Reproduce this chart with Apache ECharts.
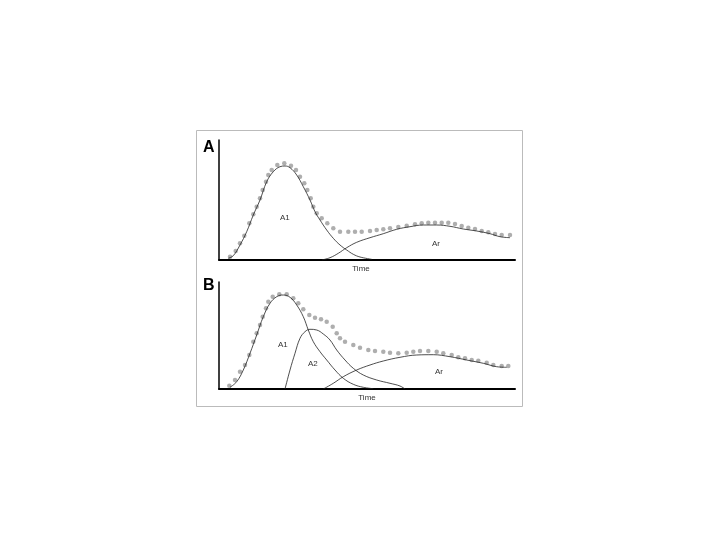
<!DOCTYPE html>
<html><head><meta charset="utf-8">
<script src="https://cdn.jsdelivr.net/npm/echarts@6/dist/echarts.min.js"></script>
<style>html,body{margin:0;padding:0;background:#fff}#c{width:720px;height:540px}</style>
</head><body><div id="c"></div>
<script>
// Panel A
var aA1 = [[9.3,1.7],[14.3,4.3],[21,15],[27.7,28.3],[34.3,45],[41,60],[47.7,78.3],[54.3,88.3],[61,93.3],[66,94],[71,92.3],[77.7,85],[84.3,73.3],[91,60],[96,48.3],[101,40],[107.7,30],[114.3,21.7],[121,15],[127.7,10],[134.3,5.7],[141,3],[152.7,0.7]];
var aAr = [[102.7,0],[111,2.3],[119.3,6.7],[127.7,12.3],[137.7,17.7],[151,22.3],[164.3,26.3],[177.7,30.7],[191,33.3],[204.3,35],[217.7,35],[231,33.7],[244.3,31],[257.7,29],[271,26.3],[281,23.3],[291,22.3]];
var aSum = [[11,3.3],[16.7,9],[21,16.7],[25.3,24.3],[30.3,36.7],[34.3,45.7],[37.7,53.3],[41,61.7],[43.7,70],[47,78.3],[49.3,85],[52.7,90],[58.3,95],[65.3,96.7],[72,94.3],[77,90],[81,83.3],[85.3,76.7],[88.3,70],[91.7,61.7],[94.3,53.3],[97.7,46.7],[102.7,41.7],[108.3,36.7],[114.3,31.7],[121,28.3],[129.3,28.3],[136,28.3],[142.7,28.3],[151,29],[157.7,30],[164.3,30.7],[171,31.7],[179.3,33],[187.7,34.3],[196,35.7],[202.7,36.7],[209.3,37.3],[216,37.3],[222.7,37.3],[229.3,37.3],[236,36],[242.7,34],[249.3,32.3],[256,31],[262.7,29],[269.3,27.7],[276,26],[282.7,25],[291,25]];
// Panel B
var bA1 = [[11,1.7],[17.7,7.3],[24.3,19],[31,35.7],[37.7,54],[44.3,72.3],[51,85.7],[57.7,92.3],[64.3,94],[71,91.7],[77.7,84],[84.3,72.3],[89.3,59],[94.3,47.3],[101,37.3],[107.7,29],[116,19],[124.3,10.7],[134.3,4.7],[144.3,1.7],[154.3,0.3]];
var bA2 = [[66,0],[71,19],[76,35.7],[81,50.7],[86,57.3],[91,59.7],[97.7,59],[104.3,55],[111,49],[117.7,39],[126,29],[134.3,20.7],[144.3,14],[157.7,9],[171,5.7],[181,3],[186,0]];
var bAr = [[104.3,0],[114.3,5.7],[124.3,12.3],[137.7,19],[151,24],[164.3,28],[181,31.7],[197.7,34],[214.3,34.3],[231,32.3],[247.7,29],[264.3,25.7],[277.7,22.3],[287.7,21.7]];
var bSum = [[10.3,3.3],[16,9],[21,17.3],[26,24],[30.3,34],[34.3,47.3],[37.7,55.7],[41,64],[43.7,72.3],[47,80.7],[49.3,87.3],[53.7,92.3],[60.3,94.7],[67.7,94.7],[74.3,90.7],[79.3,85.7],[84.3,79.7],[90.3,74],[96,71.3],[102,69.7],[107.7,67.3],[113.7,62.3],[117.7,55.7],[121,50.7],[126,47.3],[134.3,44],[141,41.3],[149.3,39],[156,38],[164.3,37.3],[171,36.3],[179.3,35.7],[187.7,36.3],[194.3,37.3],[201,38],[209.3,38],[217.7,37.3],[224.3,35.7],[232.7,34],[239.3,31.7],[246,30.7],[252.7,29],[259.3,28.3],[267.7,26.3],[274.3,24],[282.7,23],[289.3,23]];
var xName = "Time";
var panelLabels = ["A", "B"];

var chart = echarts.init(document.getElementById('c'), null, {renderer:'canvas'});
var font = 'Liberation Sans, Arial, sans-serif';
function xa(i,pad){return {type:'value',gridIndex:i,min:0,max:296,name:xName,nameLocation:'middle',nameGap:5,
  nameTextStyle:{fontSize:8,color:'#333',fontFamily:font,padding:pad},
  axisLine:{lineStyle:{color:'#000',width:2}},axisTick:{show:false},axisLabel:{show:false},splitLine:{show:false}};}
function ya(i,max){return {type:'value',gridIndex:i,min:0,max:max,
  axisLine:{show:true,lineStyle:{color:'#000',width:1.5}},axisTick:{show:false},axisLabel:{show:false},splitLine:{show:false}};}
function line(data,i){return {type:'line',xAxisIndex:i,yAxisIndex:i,data:data,smooth:0.4,showSymbol:false,silent:true,
  lineStyle:{color:'#222',width:0.8},z:3};}
function dots(data,i){return {type:'scatter',xAxisIndex:i,yAxisIndex:i,data:data,symbolSize:4.5,silent:true,
  itemStyle:{color:'#9a9a9a'},z:2};}
function txt(x,y,t,size,bold){return {type:'text',left:x,top:y,style:{text:t,fontSize:size,fontWeight:bold?'bold':'normal',fill:bold?'#000':'#333',fontFamily:font},z:10};}
chart.setOption({
  animation:false,
  grid:[{left:219,top:140,width:296,height:120},{left:219,top:282,width:296,height:107}],
  xAxis:[xa(0,[0,12,0,0]),xa(1,[0,0,0,0])],
  yAxis:[ya(0,120),ya(1,107)],
  series:[dots(aSum,0),line(aA1,0),line(aAr,0),dots(bSum,1),line(bA1,1),line(bA2,1),line(bAr,1)],
  graphic:[
    {type:'rect',shape:{x:196.5,y:130.5,width:326,height:276},style:{fill:'none',stroke:'#bbb',lineWidth:1},z:0},
    txt(203,140,panelLabels[0],16,true),
    txt(203,278,panelLabels[1],16,true),
    txt(280,214,'A1',8,false),
    txt(432,240,'Ar',8,false),
    txt(278,341,'A1',8,false),
    txt(308,360,'A2',8,false),
    txt(435,368,'Ar',8,false)
  ]
});
</script></body></html>
